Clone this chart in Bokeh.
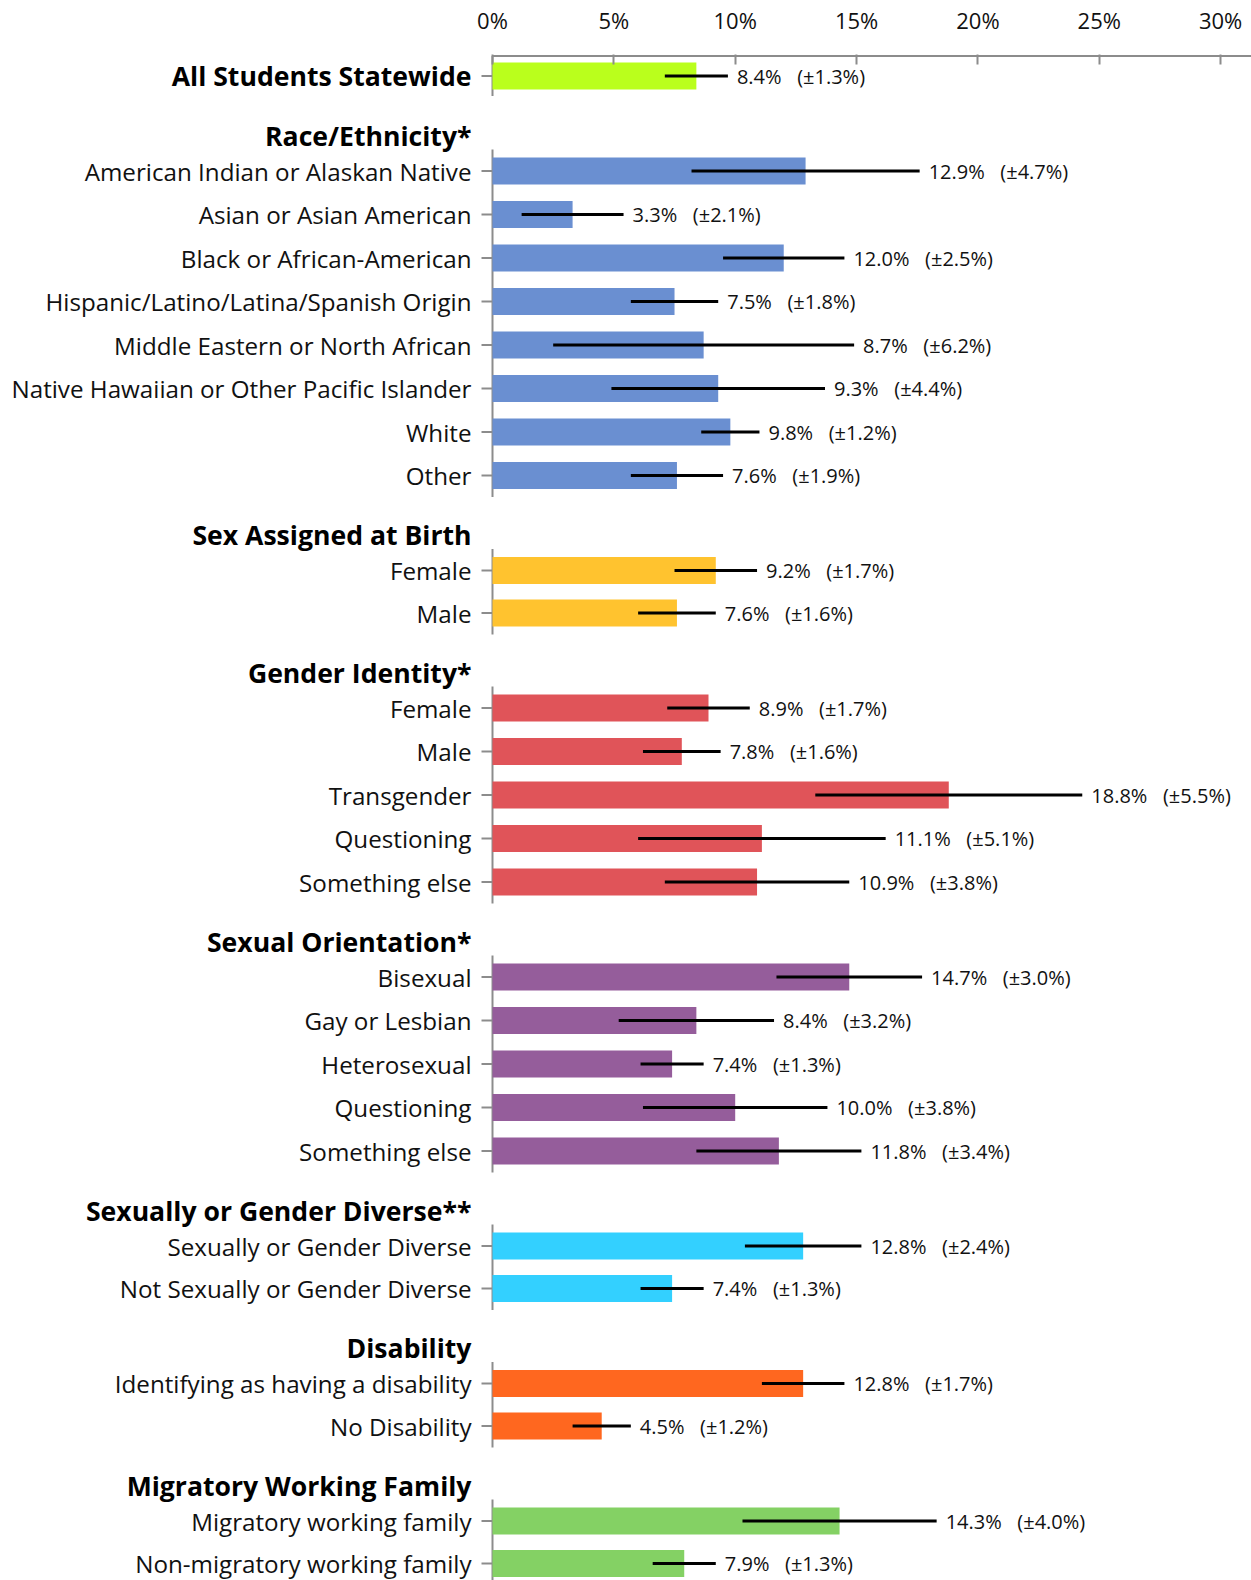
import math
from bokeh.plotting import figure
from bokeh.models import Range1d, FixedTicker, ColumnDataSource
from bokeh.embed import file_html
from bokeh.resources import INLINE
from bokeh.core.properties import value

# ---------------- data ----------------
group_titles = ["All Students Statewide", "Race/Ethnicity*", "Sex Assigned at Birth",
                "Gender Identity*", "Sexual Orientation*", "Sexually or Gender Diverse**",
                "Disability", "Migratory Working Family"]

all_labels = ["All Students Statewide"]
all_vals = [8.4]
all_moe = [1.3]

race_labels = ["American Indian or Alaskan Native", "Asian or Asian American",
               "Black or African-American", "Hispanic/Latino/Latina/Spanish Origin",
               "Middle Eastern or North African", "Native Hawaiian or Other Pacific Islander",
               "White", "Other"]
race_vals = [12.9, 3.3, 12.0, 7.5, 8.7, 9.3, 9.8, 7.6]
race_moe = [4.7, 2.1, 2.5, 1.8, 6.2, 4.4, 1.2, 1.9]

sex_labels = ["Female", "Male"]
sex_vals = [9.2, 7.6]
sex_moe = [1.7, 1.6]

gender_labels = ["Female", "Male", "Transgender", "Questioning", "Something else"]
gender_vals = [8.9, 7.8, 18.8, 11.1, 10.9]
gender_moe = [1.7, 1.6, 5.5, 5.1, 3.8]

so_labels = ["Bisexual", "Gay or Lesbian", "Heterosexual", "Questioning", "Something else"]
so_vals = [14.7, 8.4, 7.4, 10.0, 11.8]
so_moe = [3.0, 3.2, 1.3, 3.8, 3.4]

sgd_labels = ["Sexually or Gender Diverse", "Not Sexually or Gender Diverse"]
sgd_vals = [12.8, 7.4]
sgd_moe = [2.4, 1.3]

dis_labels = ["Identifying as having a disability", "No Disability"]
dis_vals = [12.8, 4.5]
dis_moe = [1.7, 1.2]

mig_labels = ["Migratory working family", "Non-migratory working family"]
mig_vals = [14.3, 7.9]
mig_moe = [4.0, 1.3]

x_ticks = [0, 5, 10, 15, 20, 25, 30]

group_colors = ["#baff1c", "#6a8fd1", "#ffc32f", "#e05459", "#955d9b",
                "#33d0ff", "#ff671f", "#84d164"]

groups = [
    (all_labels, all_vals, all_moe),
    (race_labels, race_vals, race_moe),
    (sex_labels, sex_vals, sex_moe),
    (gender_labels, gender_vals, gender_moe),
    (so_labels, so_vals, so_moe),
    (sgd_labels, sgd_vals, sgd_moe),
    (dis_labels, dis_vals, dis_moe),
    (mig_labels, mig_vals, mig_moe),
]

# ---------------- layout (y in pixel-like units below the top axis) ----------------
FONT = "Open Sans"
PITCH = 43.5
PITCH_SMALL = 42.5      # two-row groups are set a little tighter
HEAD_GAP = 59.5
HEAD_TO_BAR = 35.5
TOP = 20
BAR_H = 27
PX_PER_PCT = 24.27      # horizontal scale of the value axis
LABEL_PX = 492          # room left of 0% for category labels
W, H = 1251, 1580
TOP_BORDER = 54

ys, vals, moes, colors = [], [], [], []
cat_y, cat_t = [], []
head_y, head_t = [], []
seg_y0, seg_y1 = [], []
last = None
for gi, (labs, vs, ms) in enumerate(groups):
    if gi == 0:
        first = TOP
    else:
        hy = last + HEAD_GAP
        head_y.append(hy); head_t.append(group_titles[gi])
        first = hy + HEAD_TO_BAR
    pitch = PITCH_SMALL if len(labs) == 2 else PITCH
    for i, (l, v, m) in enumerate(zip(labs, vs, ms)):
        y = first + i * pitch
        ys.append(y); vals.append(v); moes.append(m); colors.append(group_colors[gi])
        if gi == 0:
            head_y.append(y); head_t.append(l)
        else:
            cat_y.append(y); cat_t.append(l)
        last = y
    if gi == 0:
        seg_y0.append(0); seg_y1.append(first + 20)
    else:
        seg_y0.append(first - 21.5); seg_y1.append(last + 21.5)

src = ColumnDataSource(dict(
    y=ys, v=vals, lo=[a - b for a, b in zip(vals, moes)], hi=[a + b for a, b in zip(vals, moes)],
    c=colors,
    t=[f"{a:.1f}%\u00a0\u00a0\u00a0(\u00b1{b:.1f}%)" for a, b in zip(vals, moes)],
))

x_start = -LABEL_PX / PX_PER_PCT
x_end = (W - LABEL_PX) / PX_PER_PCT
frame_h = H - TOP_BORDER
p = figure(width=W, height=H, output_backend="svg", toolbar_location=None,
           x_range=Range1d(x_start, x_end), y_range=Range1d(frame_h - 1.5, -1.5),
           x_axis_location="above", y_axis_location=None,
           min_border_left=0, min_border_top=TOP_BORDER, min_border_right=0, min_border_bottom=0)
p.outline_line_color = None
p.xgrid.visible = False
p.ygrid.visible = False
p.background_fill_color = "white"

AXIS_C = "#8c8c8c"

# top value axis line (from 0% rightwards)
p.segment(x0=[0], y0=[0], x1=[x_end], y1=[0], line_color=AXIS_C, line_width=2)
# group axis lines
p.segment(x0=[0] * len(seg_y0), y0=seg_y0, x1=[0] * len(seg_y0), y1=seg_y1,
          line_color=AXIS_C, line_width=2)
# category tick marks
p.ray(x=[0] * len(ys), y=ys, length=11, length_units="screen", angle=math.pi,
      line_color=AXIS_C, line_width=2)

# bars
p.hbar(y="y", left=0, right="v", height=BAR_H, fill_color="c", line_color=None, source=src)
# error bars
p.segment(x0="lo", y0="y", x1="hi", y1="y", line_color="black", line_width=3, source=src)
# value labels
p.text(x="hi", y="y", text="t", x_offset=9, text_baseline="middle", text_align="left",
       text_font=value(FONT), text_font_size=value("20px"), text_color="#111111", source=src)

# category labels
p.text(x=[0] * len(cat_y), y=cat_y, text=cat_t, x_offset=-21, text_align="right",
       text_baseline="middle", text_font=value(FONT), text_font_size=value("24.2px"),
       text_color="#111111")
# group headers (bold)
p.text(x=[0] * len(head_y), y=head_y, text=head_t, x_offset=-21, text_align="right",
       text_baseline="middle", text_font=value(FONT), text_font_style="bold",
       text_font_size=value("26.6px"), text_color="#000000")

# x axis (ticks + labels only; line drawn above from 0%)
xa = p.xaxis[0]
xa.ticker = FixedTicker(ticks=x_ticks)
xa.major_label_overrides = {t: f"{t}%" for t in x_ticks}
xa.major_label_text_font = FONT
xa.major_label_text_font_size = "22px"
xa.major_label_text_color = "#111111"
xa.major_label_standoff = 20
xa.axis_line_color = None
xa.major_tick_line_color = AXIS_C
xa.major_tick_line_width = 2
xa.major_tick_in = 10
xa.major_tick_out = 0
xa.minor_tick_line_color = None

open("out.html", "w").write(file_html(p, INLINE))
